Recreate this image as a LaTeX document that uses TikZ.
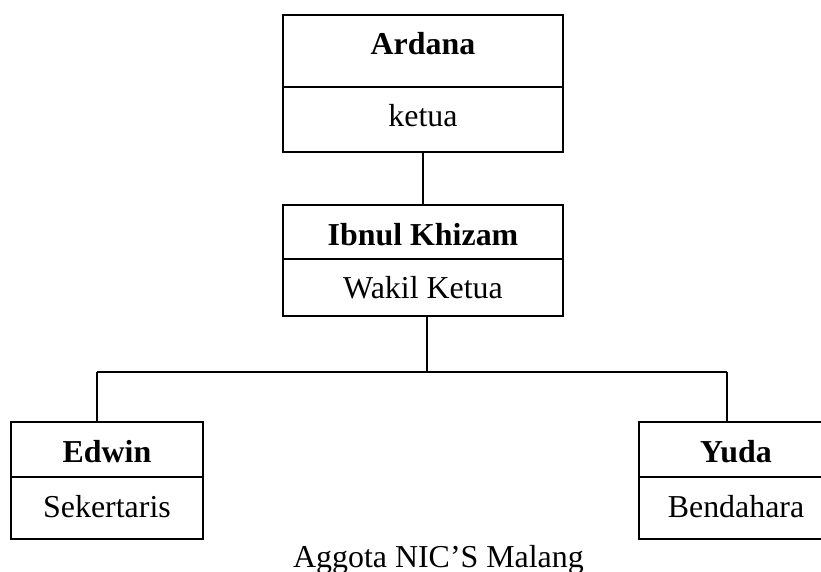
\documentclass[tikz,border=0pt]{standalone}
\usepackage{fontspec}
\setmainfont{Liberation Serif}
\begin{document}
\begin{tikzpicture}[x=1pt,y=-1pt,
  box/.style={draw=black,line width=1.6pt,rectangle,inner sep=0pt,minimum width=#1},
  conn/.style={draw=black,line width=1.4pt},
  lbl/.style={anchor=base,inner sep=0pt,font=\fontsize{31.9}{36}\selectfont},
  blbl/.style={lbl,font=\fontsize{31.9}{36}\selectfont\bfseries}]
\useasboundingbox (0,0) rectangle (821,572);
\clip (0,0) rectangle (821,572);
% Ardana
\node[box=280,minimum height=72] (a1) at (423,51) {};
\node[box=280,minimum height=65] (a2) at (423,119.5) {};
\node[blbl] (a1t) at (423,55) {Ardana};
\node[lbl] (a2t) at (423,127) {ketua};
% Ibnul
\node[box=280,minimum height=54] (b1) at (423,232) {};
\node[box=280,minimum height=57] (b2) at (423,287.5) {};
\node[blbl] (b1t) at (423,245) {Ibnul Khizam};
\node[lbl] (b2t) at (423,298) {Wakil Ketua};
% Edwin
\node[box=192,minimum height=55] (e1) at (107,449.5) {};
\node[box=192,minimum height=62] (e2) at (107,508) {};
\node[blbl] (e1t) at (107,462) {Edwin};
\node[lbl] (e2t) at (107,517) {Sekertaris};
% Yuda
\node[box=194,minimum height=55] (y1) at (736,449.5) {};
\node[box=194,minimum height=62] (y2) at (736,508) {};
\node[blbl] (y1t) at (736,462) {Yuda};
\node[lbl] (y2t) at (736,517) {Bendahara};
% caption
\node[lbl] (cap) at (438.5,567) {Aggota NIC’S Malang};
% connectors
\coordinate (jc) at (427,372);
\coordinate (jl) at (97,372);
\coordinate (jr) at (727,372);
\draw[conn] (a2.south) -- (b1.north);
\draw[conn] (b2.south -| jc) -- (jc);
\draw[conn] (jl) -- (jr);
\draw[conn] (jl) -- (jl |- e1.north);
\draw[conn] (jr) -- (jr |- y1.north);
\end{tikzpicture}
\end{document}
